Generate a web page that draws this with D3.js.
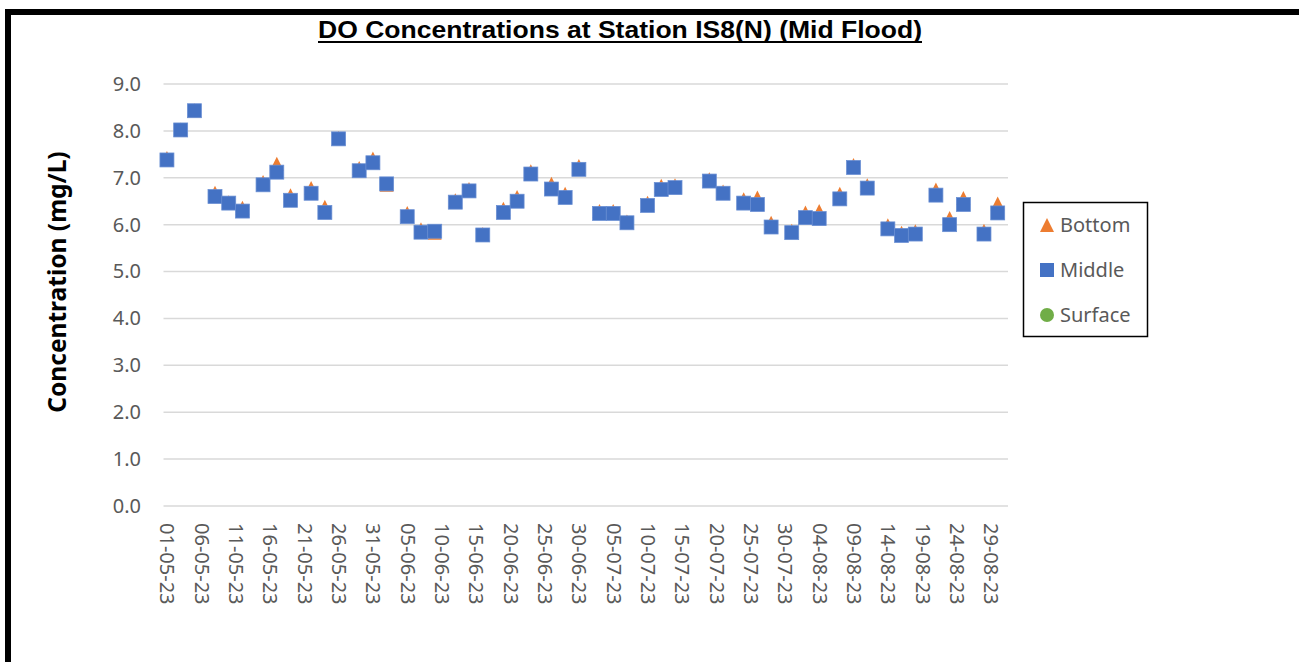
<!DOCTYPE html>
<html>
<head>
<meta charset="utf-8">
<script src="https://cdnjs.cloudflare.com/ajax/libs/d3/7.8.5/d3.min.js"></script>
<style>
  body { margin: 0; background: #fff; }
  svg { display: block; }
</style>
</head>
<body>
<div id="chart"></div>
<script>
// sampling dates (dd-mm-yy)
var dates = [
  "01-05-23", "03-05-23", "05-05-23", "08-05-23", "10-05-23", "12-05-23", "15-05-23",
  "17-05-23", "19-05-23", "22-05-23", "24-05-23", "26-05-23", "29-05-23", "31-05-23",
  "02-06-23", "05-06-23", "07-06-23", "09-06-23", "12-06-23", "14-06-23", "16-06-23",
  "19-06-23", "21-06-23", "23-06-23", "26-06-23", "28-06-23", "30-06-23",
  "03-07-23", "05-07-23", "07-07-23", "10-07-23", "12-07-23", "14-07-23", "19-07-23",
  "21-07-23", "24-07-23", "26-07-23", "28-07-23", "31-07-23",
  "02-08-23", "04-08-23", "07-08-23", "09-08-23", "11-08-23", "14-08-23", "16-08-23",
  "18-08-23", "21-08-23", "23-08-23", "25-08-23", "28-08-23", "30-08-23"
];
var bottomValues = [
  7.42, 8.03, 8.44, 6.68, 6.48, 6.36, 6.91, 7.30, 6.63, 6.78, 6.38, 7.85, 7.21, 7.41,
  6.85, 6.25, 5.90, 5.83, 6.52, 6.76, 5.80, 6.34, 6.59, 7.14, 6.87, 6.66, 7.25,
  6.29, 6.29, 6.07, 6.47, 6.83, 6.84, 6.97, 6.71, 6.54, 6.58, 6.04, 5.87,
  6.26, 6.29, 6.66, 7.27, 6.84, 5.99, 5.83, 5.86, 6.75, 6.14, 6.57, 5.87, 6.45
];
var middleValues = [
  7.38, 8.02, 8.43, 6.60, 6.46, 6.29, 6.85, 7.12, 6.52, 6.67, 6.26, 7.83, 7.15, 7.32,
  6.87, 6.17, 5.84, 5.86, 6.48, 6.72, 5.78, 6.26, 6.50, 7.08, 6.76, 6.58, 7.18,
  6.24, 6.24, 6.04, 6.41, 6.75, 6.79, 6.93, 6.67, 6.46, 6.43, 5.95, 5.83,
  6.15, 6.13, 6.55, 7.22, 6.78, 5.91, 5.77, 5.80, 6.63, 6.00, 6.43, 5.80, 6.25
];
// no surface readings shown on this chart
var surfaceValues = [];

var xTickLabels = [
  "01-05-23", "06-05-23", "11-05-23", "16-05-23", "21-05-23", "26-05-23", "31-05-23",
  "05-06-23", "10-06-23", "15-06-23", "20-06-23", "25-06-23", "30-06-23",
  "05-07-23", "10-07-23", "15-07-23", "20-07-23", "25-07-23", "30-07-23",
  "04-08-23", "09-08-23", "14-08-23", "19-08-23", "24-08-23", "29-08-23"
];
var yTicks = [0, 1, 2, 3, 4, 5, 6, 7, 8, 9];

var seriesNames = ["Bottom", "Middle", "Surface"];
var seriesColors = ["#ED7D31", "#4472C4", "#70AD47"];

var W = 1299, H = 662;
var parse = d3.utcParse("%d-%m-%y");
var font = "'Noto Sans', 'Open Sans', sans-serif";
var grey = "#595959";

var svg = d3.select("#chart").append("svg")
    .attr("width", W)
    .attr("height", H);

svg.append("rect").attr("width", W).attr("height", H).attr("fill", "#fff");

// black frame (top + left edges)
svg.append("rect").attr("x", 5).attr("y", 9).attr("width", W - 5).attr("height", 6).attr("fill", "#000");
svg.append("rect").attr("x", 5).attr("y", 9).attr("width", 6).attr("height", H - 9).attr("fill", "#000");

// scales: each day takes a slot, points sit at the middle
var x = d3.scaleUtc()
    .domain([new Date(Date.UTC(2023, 3, 30, 12)), new Date(Date.UTC(2023, 7, 31, 12))])
    .range([163.5, 1008]);

var y = d3.scaleLinear()
    .domain([0, 9])
    .range([506, 84]);

// gridlines
svg.append("g").selectAll("line")
    .data(yTicks)
    .enter().append("line")
    .attr("x1", x.range()[0])
    .attr("x2", x.range()[1])
    .attr("y1", function (d) { return y(d); })
    .attr("y2", function (d) { return y(d); })
    .attr("stroke", "#d9d9d9")
    .attr("stroke-width", 1.5);

// y axis
var yAxis = svg.append("g")
    .attr("transform", "translate(141,0)")
    .call(d3.axisLeft(y).tickValues(yTicks).tickFormat(d3.format(".1f")).tickSize(0).tickPadding(0));
yAxis.select(".domain").remove();
yAxis.selectAll("text")
    .attr("font-family", font)
    .attr("font-size", 20)
    .attr("fill", grey);

// x axis labels (rotated)
var xAxis = svg.append("g")
    .attr("transform", "translate(0,506)")
    .call(d3.axisBottom(x).tickValues(xTickLabels.map(parse)).tickFormat(d3.utcFormat("%d-%m-%y")).tickSize(0));
xAxis.select(".domain").remove();
xAxis.selectAll("text")
    .attr("font-family", font)
    .attr("font-size", 20)
    .attr("fill", grey)
    .attr("transform", "rotate(90)")
    .attr("x", 17)
    .attr("y", 0)
    .attr("dy", "0.35em")
    .style("text-anchor", "start");

// y axis title
svg.append("text")
    .attr("transform", "translate(66,282) rotate(-90)")
    .attr("text-anchor", "middle")
    .attr("font-family", font)
    .attr("font-weight", "bold")
    .attr("font-size", 24.5)
    .attr("fill", "#000")
    .text("Concentration (mg/L)");

// title (narrow bold, underlined)
svg.append("text")
    .attr("x", 620)
    .attr("y", 38)
    .attr("text-anchor", "middle")
    .attr("font-family", "'Liberation Sans Narrow', 'Liberation Sans', Arial, sans-serif")
    .attr("font-weight", "bold")
    .attr("font-size", 24)
    .attr("textLength", 604)
    .attr("lengthAdjust", "spacingAndGlyphs")
    .attr("fill", "#000")
    .text("DO Concentrations at Station IS8(N) (Mid Flood)");
svg.append("line")
    .attr("x1", 318).attr("x2", 922)
    .attr("y1", 42).attr("y2", 42)
    .attr("stroke", "#000")
    .attr("stroke-width", 2);

// marker helpers
function triPath(s) {
    var h = s / 2;
    return "M0," + (-h) + "L" + h + "," + h + "L" + (-h) + "," + h + "Z";
}

var bottomData = dates.map(function (d, i) { return { date: parse(d), v: bottomValues[i] }; });
var middleData = dates.map(function (d, i) { return { date: parse(d), v: middleValues[i] }; });

svg.append("g").selectAll("path")
    .data(bottomData)
    .enter().append("path")
    .attr("d", triPath(14))
    .attr("transform", function (d) { return "translate(" + x(d.date) + "," + y(d.v) + ")"; })
    .attr("fill", seriesColors[0]);

svg.append("g").selectAll("rect")
    .data(middleData)
    .enter().append("rect")
    .attr("x", function (d) { return x(d.date) - 7; })
    .attr("y", function (d) { return y(d.v) - 7; })
    .attr("width", 14)
    .attr("height", 14)
    .attr("fill", seriesColors[1])
    .attr("stroke", "#6a8fd3")
    .attr("stroke-width", 0.75);

svg.append("g").selectAll("circle")
    .data(surfaceValues)
    .enter().append("circle")
    .attr("r", 7)
    .attr("fill", seriesColors[2]);

// legend
var legend = svg.append("g");
legend.append("rect")
    .attr("x", 1023.5).attr("y", 202.5)
    .attr("width", 124).attr("height", 134)
    .attr("fill", "#fff")
    .attr("stroke", "#000")
    .attr("stroke-width", 1.5);

var rows = [225, 270, 315];
seriesNames.forEach(function (name, i) {
    var g = legend.append("g").attr("transform", "translate(1047," + rows[i] + ")");
    if (i === 0) g.append("path").attr("d", triPath(14)).attr("fill", seriesColors[i]);
    if (i === 1) g.append("rect").attr("x", -7).attr("y", -7).attr("width", 14).attr("height", 14).attr("fill", seriesColors[i]);
    if (i === 2) g.append("circle").attr("r", 7).attr("fill", seriesColors[i]);
    g.append("text")
        .attr("x", 13)
        .attr("dy", "0.35em")
        .attr("font-family", font)
        .attr("font-size", 20)
        .attr("fill", grey)
        .text(name);
});
</script>
</body>
</html>
